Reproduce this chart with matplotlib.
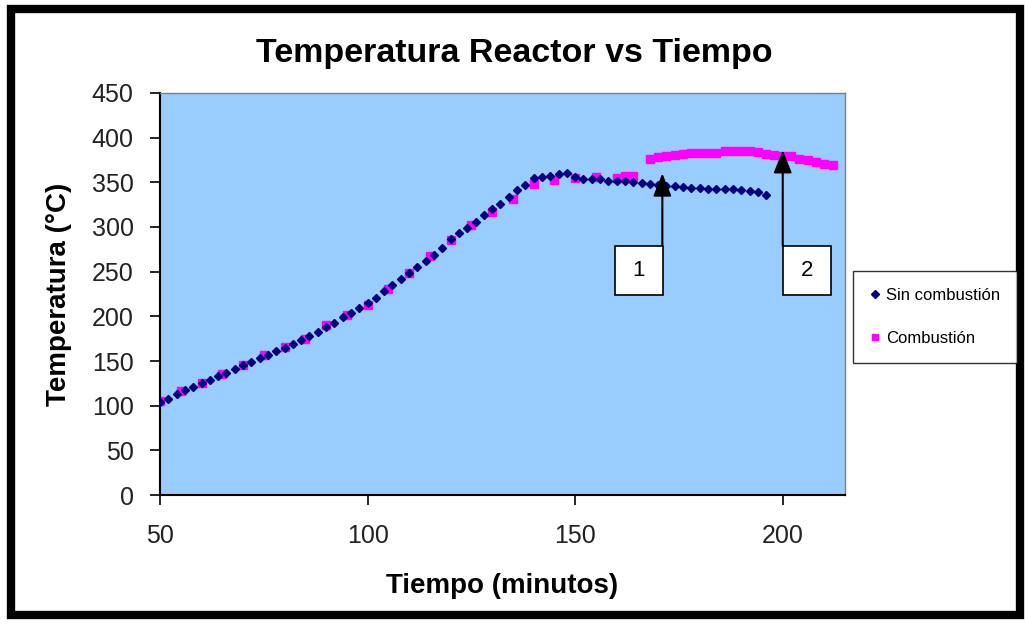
import numpy as np
import matplotlib
matplotlib.use("Agg")
import matplotlib.pyplot as plt
from matplotlib.patches import Rectangle

plt.rcParams["font.family"] = ["Liberation Sans", "DejaVu Sans"]

# Datos: Sin combustión (cada 2 minutos)
t_sin = np.arange(50, 198, 2)
temp_sin = [104, 108, 113, 117, 121, 125, 129, 133, 137, 141,
            145, 149, 153, 157, 161, 165, 169, 173, 178, 183,
            188, 193, 199, 204, 209, 215, 221, 228, 235, 242,
            248, 255, 262, 269, 276, 286, 293, 299, 306, 313,
            320, 326, 334, 341, 347, 355, 356, 357, 359, 360,
            356, 354, 354, 354, 352, 352, 351, 350, 349, 348,
            347, 346, 346, 345, 344, 344, 343, 343, 342, 342,
            341, 340, 339, 336]

# Datos: Combustión
t_com = [50, 55, 60, 65, 70, 75, 80, 85, 90, 95, 100, 105, 110, 115, 120,
         125, 130, 135, 140, 145, 150, 155, 160, 162, 164,
         168, 170, 172, 174, 176, 178, 180, 182, 184, 186, 188, 190,
         192, 194, 196, 198, 200, 202, 204, 206, 208, 210, 212]
temp_com = [105, 116, 125, 136, 146, 157, 166, 175, 190, 202, 213, 231, 249, 267, 285,
            302, 317, 331, 348, 353, 355, 356, 355, 357, 357,
            376, 378, 380, 381, 382, 383, 383, 383, 383, 385, 385, 385,
            385, 384, 382, 381, 380, 379, 376, 375, 373, 371, 369]

x_ticks = [50, 100, 150, 200]
y_ticks = list(range(0, 451, 50))

fig = plt.figure(figsize=(10.25, 6.24), dpi=100)
ax = fig.add_axes([0.1561, 0.2067, 0.6683, 0.6443])
ax.set_facecolor("#99CCFF")

ax.plot(t_sin, temp_sin, linestyle="none", marker="D", markersize=4.5,
        color="#000080", label="Sin combustión", zorder=3)
ax.plot(t_com, temp_com, linestyle="none", marker="s", markersize=6,
        color="#FF00FF", label="Combustión", zorder=2)

ax.set_xlim(50, 215)
ax.set_ylim(0, 450)
ax.set_xticks(x_ticks)
ax.set_yticks(y_ticks)
ax.tick_params(axis="both", direction="out", length=7, width=1.2,
               labelsize=18, colors="black", labelcolor="#222222")
ax.tick_params(axis="x", pad=14)
ax.tick_params(axis="y", pad=12)
for s in ["left", "bottom"]:
    ax.spines[s].set_color("black")
    ax.spines[s].set_linewidth(1.5)
for s in ["top", "right"]:
    ax.spines[s].set_color("#808080")
    ax.spines[s].set_linewidth(1.0)

fig.text(0.502, 0.914, "Temperatura Reactor vs Tiempo", ha="center", va="center",
         fontsize=24.5, fontweight="bold")
ax.set_xlabel("Tiempo (minutos)", fontsize=20, fontweight="bold", labelpad=18)
ax.set_ylabel("Temperatura (°C)", fontsize=20, fontweight="bold", labelpad=14)

# Cuadros de anotación 1 y 2
boxes = [(159.5, 224, "1", 171, 360), (200, 224, "2", 200, 386)]
for bx, by, lab, ax_x, tip_y in boxes:
    ax.add_patch(Rectangle((bx, by), 11.6, 55, facecolor="white",
                           edgecolor="black", linewidth=1.2, zorder=5))
    ax.text(bx + 5.8, by + 27.5, lab, ha="center", va="center",
            fontsize=16, zorder=6)
    ax.annotate("", xy=(ax_x, tip_y), xytext=(ax_x, by + 55),
                arrowprops=dict(arrowstyle="-|>,head_width=0.4,head_length=1.0",
                                color="black", lw=1.5, mutation_scale=14,
                                shrinkA=0, shrinkB=0),
                zorder=6)

leg = fig.legend(loc="upper left", bbox_to_anchor=(0.8322, 0.5657),
                 frameon=True, fancybox=False, edgecolor="black",
                 prop={"size": 12},
                 handlelength=0.6, handletextpad=0.4, labelspacing=1.7,
                 borderpad=1.0, borderaxespad=0, markerscale=0.8)
leg.get_frame().set_linewidth(1.0)

# Marco negro exterior
fig.add_artist(Rectangle((0.0107, 0.0144), 0.9844, 0.9712, transform=fig.transFigure,
                         fill=False, edgecolor="black", linewidth=6))

fig.savefig("out.png", dpi=100, facecolor="white")
